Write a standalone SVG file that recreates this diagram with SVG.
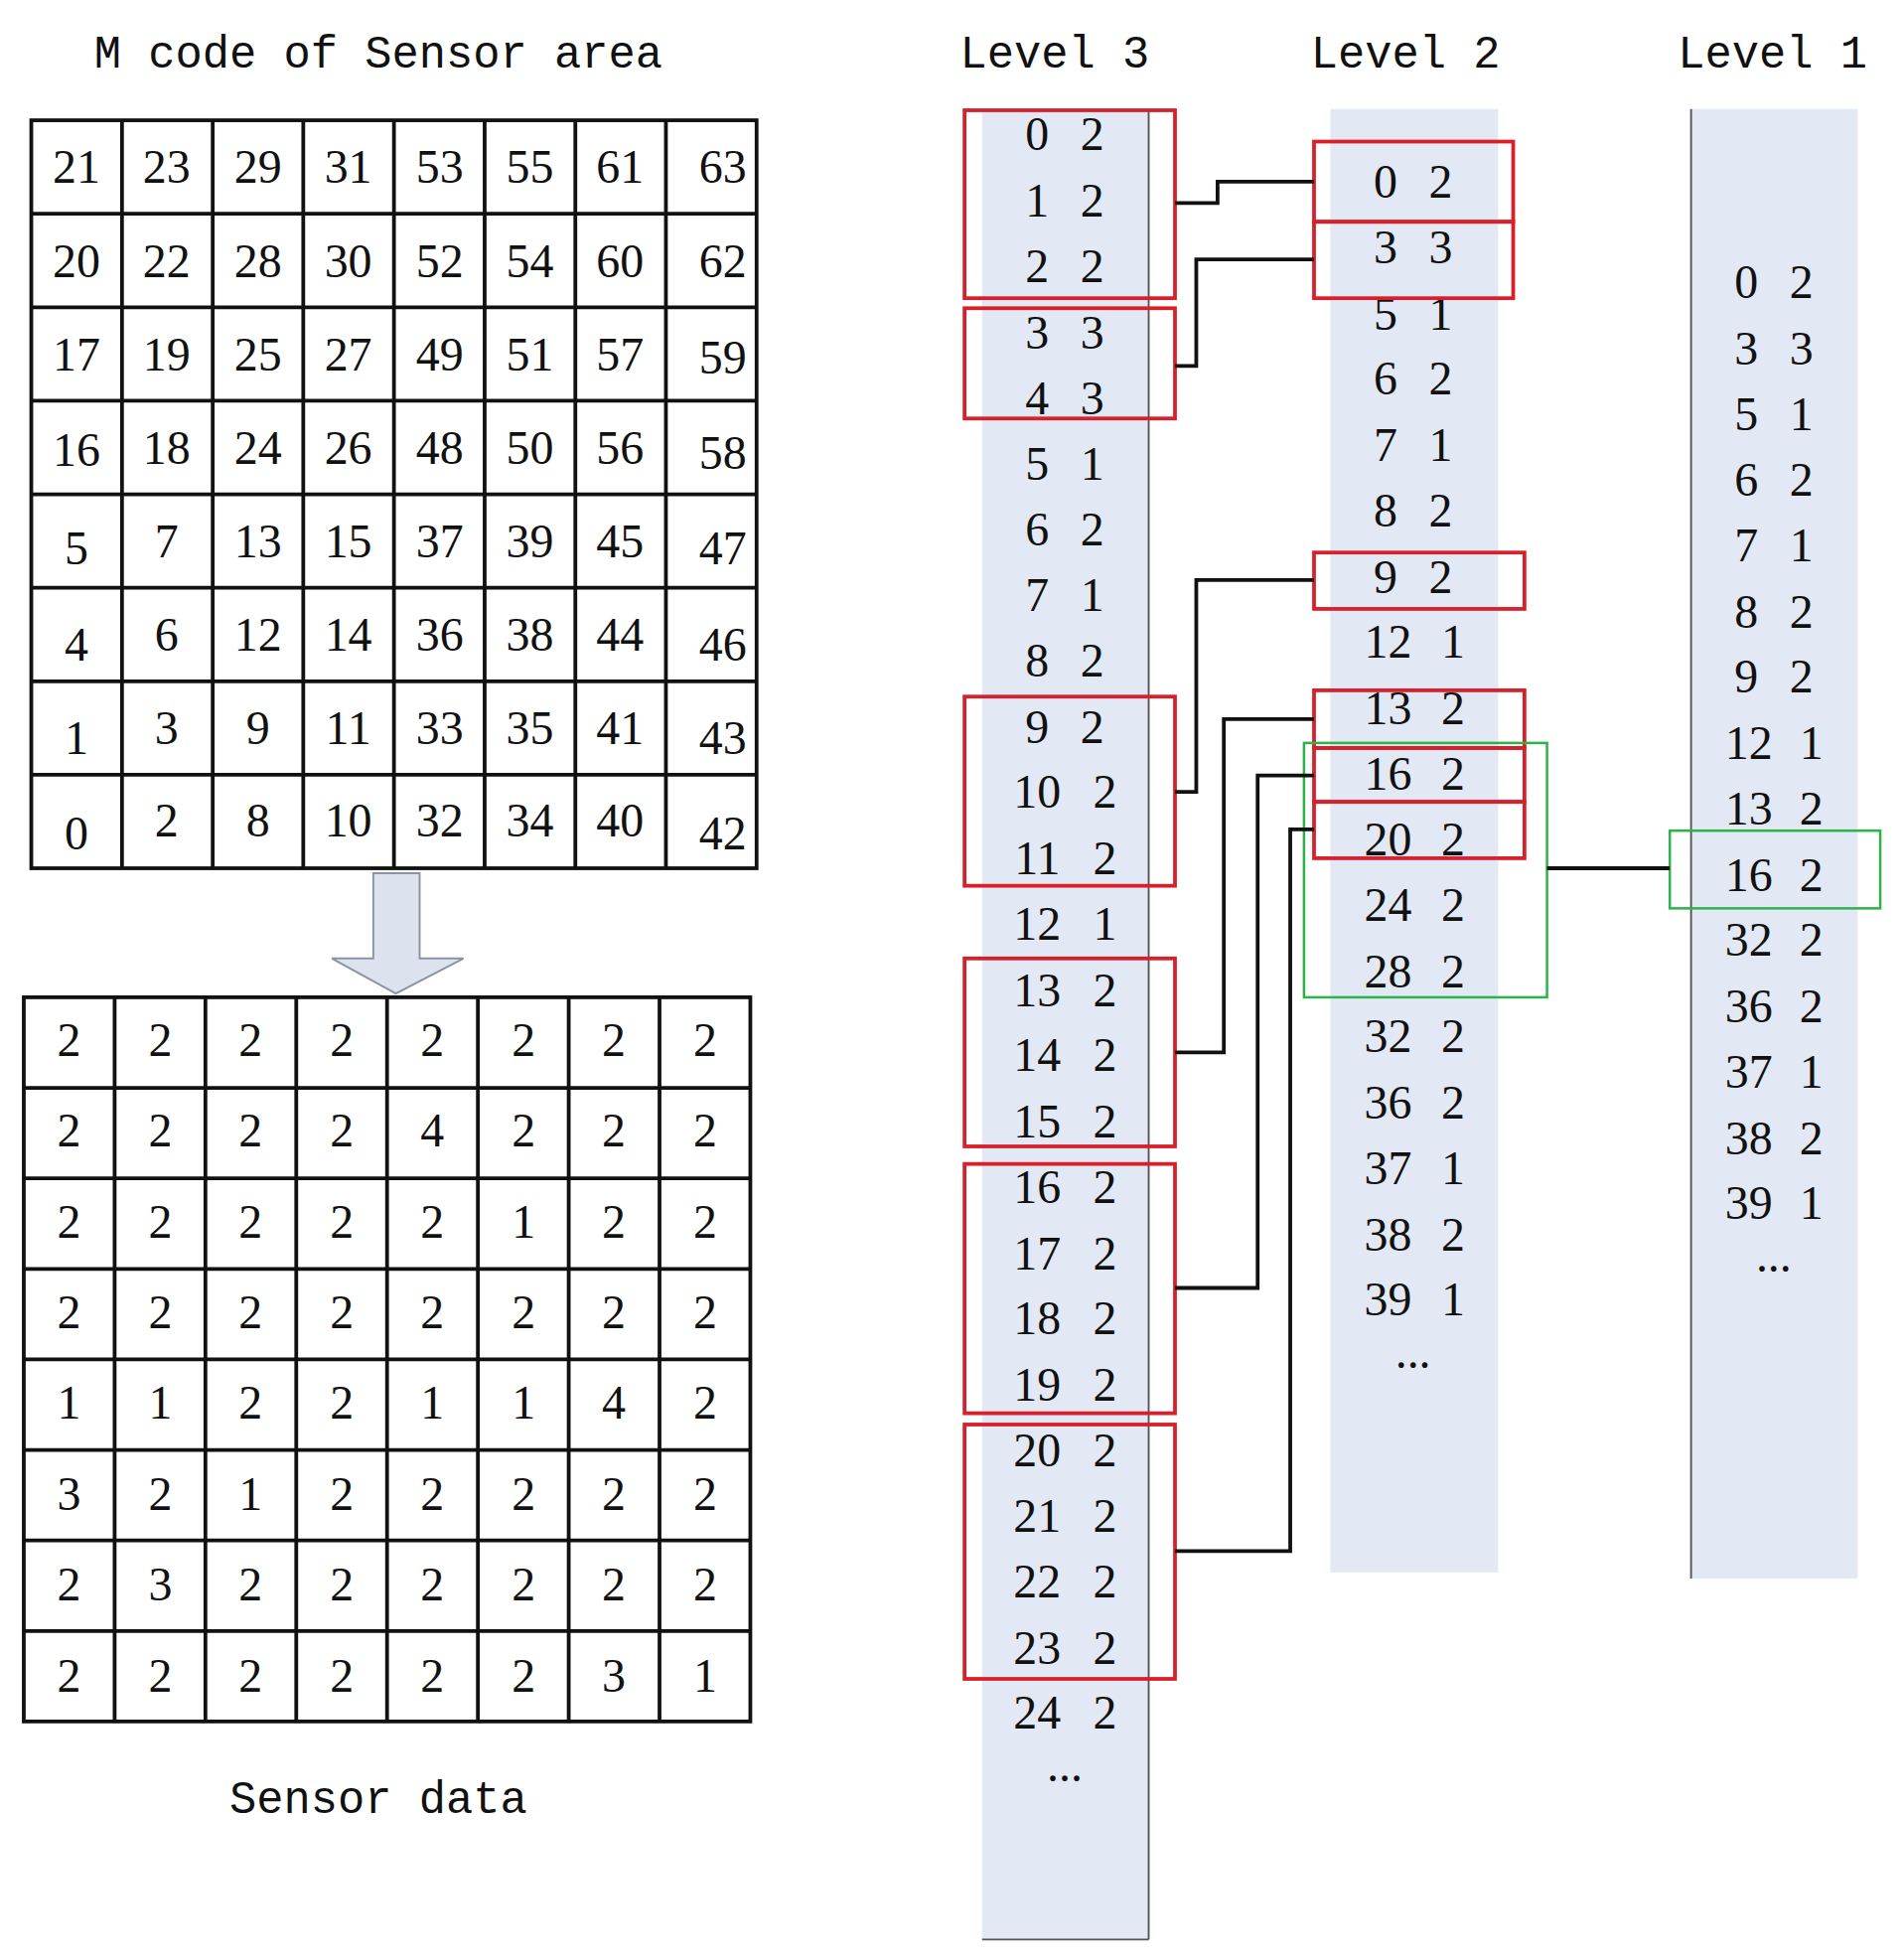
<svg xmlns="http://www.w3.org/2000/svg" width="1917" height="1973" viewBox="0 0 1917 1973">
<style>
.t{font-family:"Liberation Mono",monospace;font-size:36px;fill:#111}
.n{font-family:"Liberation Serif",serif;font-size:38px;fill:#111;text-anchor:middle}
.g{fill:none;stroke:#111;stroke-width:3}
.bg{fill:#e3e9f4}
.red{fill:none;stroke:#d9202a;stroke-width:3}
.grn{fill:none;stroke:#2db34a;stroke-width:2}
.c{fill:none;stroke:#111;stroke-width:3}
</style>
<rect width="1917" height="1973" fill="#fff"/>
<g transform="scale(1.2612)">
<g id="titles">
<text class="t" x="302" y="54" text-anchor="middle">M code of Sensor area</text>
<text class="t" x="302" y="1447" text-anchor="middle">Sensor data</text>
<text class="t" x="842" y="54" text-anchor="middle">Level 3</text>
<text class="t" x="1122" y="54" text-anchor="middle">Level 2</text>
<text class="t" x="1415" y="54" text-anchor="middle">Level 1</text>
</g>
<g id="mcode-grid">
<rect class="g" x="25" y="96" width="579" height="597"/>
<path class="g" d="M97.4 96V693M169.8 96V693M242.1 96V693M314.5 96V693M386.9 96V693M459.3 96V693M531.6 96V693M25 170.6H604M25 245.3H604M25 319.9H604M25 394.5H604M25 469.1H604M25 543.8H604M25 618.4H604"/>
<g class="n">
<text x="61" y="146">21</text><text x="133" y="146">23</text><text x="206" y="146">29</text><text x="278" y="146">31</text><text x="351" y="146">53</text><text x="423" y="146">55</text><text x="495" y="146">61</text><text x="577" y="146">63</text>
<text x="61" y="221">20</text><text x="133" y="221">22</text><text x="206" y="221">28</text><text x="278" y="221">30</text><text x="351" y="221">52</text><text x="423" y="221">54</text><text x="495" y="221">60</text><text x="577" y="221">62</text>
<text x="61" y="296">17</text><text x="133" y="296">19</text><text x="206" y="296">25</text><text x="278" y="296">27</text><text x="351" y="296">49</text><text x="423" y="296">51</text><text x="495" y="296">57</text><text x="577" y="298">59</text>
<text x="61" y="372">16</text><text x="133" y="370">18</text><text x="206" y="370">24</text><text x="278" y="370">26</text><text x="351" y="370">48</text><text x="423" y="370">50</text><text x="495" y="370">56</text><text x="577" y="374">58</text>
<text x="61" y="450">5</text><text x="133" y="445">7</text><text x="206" y="445">13</text><text x="278" y="445">15</text><text x="351" y="445">37</text><text x="423" y="445">39</text><text x="495" y="445">45</text><text x="577" y="450">47</text>
<text x="61" y="527">4</text><text x="133" y="519">6</text><text x="206" y="519">12</text><text x="278" y="519">14</text><text x="351" y="519">36</text><text x="423" y="519">38</text><text x="495" y="519">44</text><text x="577" y="527">46</text>
<text x="61" y="602">1</text><text x="133" y="594">3</text><text x="206" y="594">9</text><text x="278" y="594">11</text><text x="351" y="594">33</text><text x="423" y="594">35</text><text x="495" y="594">41</text><text x="577" y="602">43</text>
<text x="61" y="678">0</text><text x="133" y="668">2</text><text x="206" y="668">8</text><text x="278" y="668">10</text><text x="351" y="668">32</text><text x="423" y="668">34</text><text x="495" y="668">40</text><text x="577" y="678">42</text>
</g>
</g>
<g id="arrow">
<path d="M298 697H335V765H370L316 793L265 765H298Z" fill="#dde3ee" stroke="#8a93a3" stroke-width="1.5"/>
</g>
<g id="sensor-grid">
<rect class="g" x="19" y="796" width="580" height="578"/>
<path class="g" d="M91.5 796V1374M164 796V1374M236.5 796V1374M309 796V1374M381.5 796V1374M454 796V1374M526.5 796V1374M19 868.3H599M19 940.5H599M19 1012.8H599M19 1085H599M19 1157.3H599M19 1229.5H599M19 1301.8H599"/>
<g class="n">
<text x="55" y="843">2</text><text x="128" y="843">2</text><text x="200" y="843">2</text><text x="273" y="843">2</text><text x="345" y="843">2</text><text x="418" y="843">2</text><text x="490" y="843">2</text><text x="563" y="843">2</text>
<text x="55" y="915">2</text><text x="128" y="915">2</text><text x="200" y="915">2</text><text x="273" y="915">2</text><text x="345" y="915">4</text><text x="418" y="915">2</text><text x="490" y="915">2</text><text x="563" y="915">2</text>
<text x="55" y="988">2</text><text x="128" y="988">2</text><text x="200" y="988">2</text><text x="273" y="988">2</text><text x="345" y="988">2</text><text x="418" y="988">1</text><text x="490" y="988">2</text><text x="563" y="988">2</text>
<text x="55" y="1060">2</text><text x="128" y="1060">2</text><text x="200" y="1060">2</text><text x="273" y="1060">2</text><text x="345" y="1060">2</text><text x="418" y="1060">2</text><text x="490" y="1060">2</text><text x="563" y="1060">2</text>
<text x="55" y="1132">1</text><text x="128" y="1132">1</text><text x="200" y="1132">2</text><text x="273" y="1132">2</text><text x="345" y="1132">1</text><text x="418" y="1132">1</text><text x="490" y="1132">4</text><text x="563" y="1132">2</text>
<text x="55" y="1205">3</text><text x="128" y="1205">2</text><text x="200" y="1205">1</text><text x="273" y="1205">2</text><text x="345" y="1205">2</text><text x="418" y="1205">2</text><text x="490" y="1205">2</text><text x="563" y="1205">2</text>
<text x="55" y="1277">2</text><text x="128" y="1277">3</text><text x="200" y="1277">2</text><text x="273" y="1277">2</text><text x="345" y="1277">2</text><text x="418" y="1277">2</text><text x="490" y="1277">2</text><text x="563" y="1277">2</text>
<text x="55" y="1350">2</text><text x="128" y="1350">2</text><text x="200" y="1350">2</text><text x="273" y="1350">2</text><text x="345" y="1350">2</text><text x="418" y="1350">2</text><text x="490" y="1350">3</text><text x="563" y="1350">1</text>
</g>
</g>
<g id="level3">
<rect class="bg" x="784" y="88" width="133" height="1460"/>
<path d="M917 88V1548M784 1548H917" stroke="#555" stroke-width="1.5" fill="none"/>
<g class="n">
<text x="828" y="120">0</text><text x="872" y="120">2</text>
<text x="828" y="173">1</text><text x="872" y="173">2</text>
<text x="828" y="225">2</text><text x="872" y="225">2</text>
<text x="828" y="278">3</text><text x="872" y="278">3</text>
<text x="828" y="331">4</text><text x="872" y="331">3</text>
<text x="828" y="383">5</text><text x="872" y="383">1</text>
<text x="828" y="435">6</text><text x="872" y="435">2</text>
<text x="828" y="488">7</text><text x="872" y="488">1</text>
<text x="828" y="540">8</text><text x="872" y="540">2</text>
<text x="828" y="593">9</text><text x="872" y="593">2</text>
<text x="828" y="645">10</text><text x="882" y="645">2</text>
<text x="828" y="698">11</text><text x="882" y="698">2</text>
<text x="828" y="750">12</text><text x="882" y="750">1</text>
<text x="828" y="803">13</text><text x="882" y="803">2</text>
<text x="828" y="855">14</text><text x="882" y="855">2</text>
<text x="828" y="908">15</text><text x="882" y="908">2</text>
<text x="828" y="960">16</text><text x="882" y="960">2</text>
<text x="828" y="1013">17</text><text x="882" y="1013">2</text>
<text x="828" y="1065">18</text><text x="882" y="1065">2</text>
<text x="828" y="1118">19</text><text x="882" y="1118">2</text>
<text x="828" y="1170">20</text><text x="882" y="1170">2</text>
<text x="828" y="1223">21</text><text x="882" y="1223">2</text>
<text x="828" y="1275">22</text><text x="882" y="1275">2</text>
<text x="828" y="1328">23</text><text x="882" y="1328">2</text>
<text x="828" y="1380">24</text><text x="882" y="1380">2</text>
<text x="850" y="1422">...</text>
</g>
<rect class="red" x="770" y="88" width="168" height="150"/>
<rect class="red" x="770" y="246" width="168" height="88"/>
<rect class="red" x="770" y="556" width="168" height="151"/>
<rect class="red" x="770" y="765" width="168" height="150"/>
<rect class="red" x="770" y="929" width="168" height="199"/>
<rect class="red" x="770" y="1137" width="168" height="203"/>
</g>
<g id="level2">
<rect class="bg" x="1062" y="87" width="134" height="1168"/>
<g class="n">
<text x="1106" y="158">0</text><text x="1150" y="158">2</text>
<text x="1106" y="210">3</text><text x="1150" y="210">3</text>
<text x="1106" y="263">5</text><text x="1150" y="263">1</text>
<text x="1106" y="315">6</text><text x="1150" y="315">2</text>
<text x="1106" y="368">7</text><text x="1150" y="368">1</text>
<text x="1106" y="420">8</text><text x="1150" y="420">2</text>
<text x="1106" y="473">9</text><text x="1150" y="473">2</text>
<text x="1108" y="525">12</text><text x="1160" y="525">1</text>
<text x="1108" y="578">13</text><text x="1160" y="578">2</text>
<text x="1108" y="630">16</text><text x="1160" y="630">2</text>
<text x="1108" y="683">20</text><text x="1160" y="683">2</text>
<text x="1108" y="735">24</text><text x="1160" y="735">2</text>
<text x="1108" y="788">28</text><text x="1160" y="788">2</text>
<text x="1108" y="840">32</text><text x="1160" y="840">2</text>
<text x="1108" y="893">36</text><text x="1160" y="893">2</text>
<text x="1108" y="945">37</text><text x="1160" y="945">1</text>
<text x="1108" y="998">38</text><text x="1160" y="998">2</text>
<text x="1108" y="1050">39</text><text x="1160" y="1050">1</text>
<text x="1128" y="1092">...</text>
</g>
<rect class="red" x="1049" y="113" width="159" height="64"/>
<rect class="red" x="1049" y="177" width="159" height="61"/>
<rect class="red" x="1049" y="441" width="168" height="45"/>
<rect class="red" x="1049" y="551" width="168" height="46"/>
<rect class="red" x="1049" y="597" width="168" height="43"/>
<rect class="red" x="1049" y="640" width="168" height="45"/>
<rect class="grn" x="1041" y="593" width="194" height="203"/>
</g>
<g id="level1">
<rect class="bg" x="1350" y="87" width="133" height="1173"/>
<path d="M1350 87V1260" stroke="#555" stroke-width="1.5"/>
<g class="n">
<text x="1394" y="238">0</text><text x="1438" y="238">2</text>
<text x="1394" y="291">3</text><text x="1438" y="291">3</text>
<text x="1394" y="343">5</text><text x="1438" y="343">1</text>
<text x="1394" y="396">6</text><text x="1438" y="396">2</text>
<text x="1394" y="448">7</text><text x="1438" y="448">1</text>
<text x="1394" y="501">8</text><text x="1438" y="501">2</text>
<text x="1394" y="553">9</text><text x="1438" y="553">2</text>
<text x="1396" y="606">12</text><text x="1446" y="606">1</text>
<text x="1396" y="658">13</text><text x="1446" y="658">2</text>
<text x="1396" y="711">16</text><text x="1446" y="711">2</text>
<text x="1396" y="763">32</text><text x="1446" y="763">2</text>
<text x="1396" y="816">36</text><text x="1446" y="816">2</text>
<text x="1396" y="868">37</text><text x="1446" y="868">1</text>
<text x="1396" y="921">38</text><text x="1446" y="921">2</text>
<text x="1396" y="973">39</text><text x="1446" y="973">1</text>
<text x="1416" y="1015">...</text>
</g>
<rect class="grn" x="1333" y="663" width="168" height="62"/>
</g>
<g id="connectors">
<path class="c" d="M938 162H972V145H1049"/>
<path class="c" d="M938 292H955V207H1049"/>
<path class="c" d="M938 632H955V463H1049"/>
<path class="c" d="M938 840H977V574H1049"/>
<path class="c" d="M938 1028H1004V619H1049"/>
<path class="c" d="M938 1238H1030V662H1049"/>
<path class="c" stroke-width="2" d="M1235 693H1333"/>
</g>
</g>
</svg>
